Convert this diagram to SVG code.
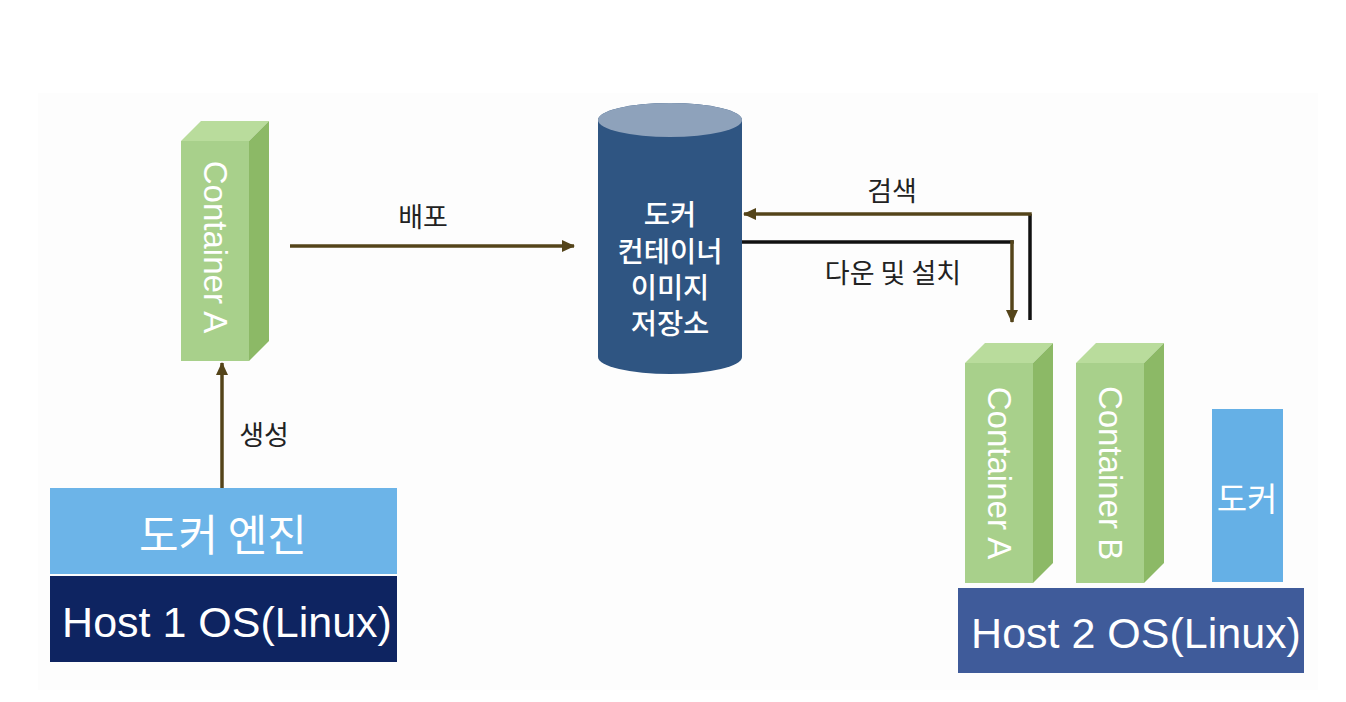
<svg xmlns="http://www.w3.org/2000/svg" xmlns:xlink="http://www.w3.org/1999/xlink" width="1346" height="702" viewBox="0 0 1346 702">
<style>
.lbl{font-family:"Noto Sans CJK KR","Liberation Sans",sans-serif;font-size:27px;fill:#222;text-anchor:middle;dominant-baseline:central}
.ctr{font-family:"Liberation Sans",Arial,sans-serif;font-size:33px;fill:#fff;text-anchor:middle;dominant-baseline:central}
.host{font-family:"Liberation Sans",Arial,sans-serif;font-size:43px;fill:#fff;text-anchor:middle}
.kr{font-family:"Noto Sans CJK KR",sans-serif;fill:#fff;text-anchor:middle;dominant-baseline:central}
.ol{fill:none;stroke:#54441a;stroke-width:3.5}
.bk{fill:none;stroke:#111;stroke-width:3.5}
</style>
<defs>
<marker id="ah" markerUnits="userSpaceOnUse" markerWidth="14" markerHeight="14" refX="12" refY="7" orient="auto">
<path d="M0,1 L13,7 L0,13 Z" fill="#54441a"/>
</marker>
<g id="cbox">
<polygon points="0,0 20,-20 88,-20 68,0" fill="#b9dc9c"/>
<polygon points="68,0 88,-20 88,200 68,220" fill="#8cb966"/>
<rect x="0" y="0" width="68" height="220" fill="#a8d08b"/>
</g>
</defs>
<rect x="38" y="93" width="1280" height="597" fill="#fdfdfd"/>
<g id="connectors">
<line class="ol" x1="222" y1="488" x2="222" y2="363" marker-end="url(#ah)"/>
<line class="ol" x1="290" y1="246" x2="574" y2="246" marker-end="url(#ah)"/>
<line class="bk" x1="1030" y1="320" x2="1030" y2="214"/>
<line class="ol" x1="1031.75" y1="214" x2="744" y2="214" marker-end="url(#ah)"/>
<line class="bk" x1="742" y1="242" x2="1013.75" y2="242"/>
<line class="ol" x1="1012" y1="240.25" x2="1012" y2="322" marker-end="url(#ah)"/>
<text class="lbl" x="264" y="433">생성</text>
<text class="lbl" x="423" y="215">배포</text>
<text class="lbl" x="892" y="189">검색</text>
<text class="lbl" x="893" y="271">다운 및 설치</text>
</g>
<g id="containerA1">
<use xlink:href="#cbox" transform="translate(181,141)"/>
<text class="ctr" transform="translate(215,247) rotate(90)">Container A</text>
</g>
<g id="dockerEngine">
<rect x="50" y="488" width="347" height="86" fill="#6cb4e8"/>
<text class="kr" x="223" y="532" font-size="43">도커 엔진</text>
</g>
<g id="host1">
<rect x="50" y="576" width="347" height="86" fill="#0e2461"/>
<text class="host" x="227" y="637">Host 1 OS(Linux)</text>
</g>
<g id="registry">
<path d="M598,120 V357 A72,17 0 0 0 742,357 V120 A72,17 0 0 0 598,120 Z" fill="#2f5582"/>
<ellipse cx="670" cy="120" rx="72" ry="17" fill="#8ea2bb"/>
<text class="kr" x="670" y="212" font-size="28.5" font-weight="500"><tspan x="670" y="212">도커</tspan><tspan x="670" y="249">컨테이너</tspan><tspan x="670" y="285">이미지</tspan><tspan x="670" y="321">저장소</tspan></text>
</g>
<g id="containerA2">
<use xlink:href="#cbox" transform="translate(965,363)"/>
<text class="ctr" transform="translate(999,473) rotate(90)">Container A</text>
</g>
<g id="containerB">
<use xlink:href="#cbox" transform="translate(1076,363)"/>
<text class="ctr" transform="translate(1110,473) rotate(90)">Container B</text>
</g>
<g id="docker2">
<rect x="1212" y="409" width="71" height="173" fill="#65b0e6"/>
<text class="kr" x="1247" y="497" font-size="33">도커</text>
</g>
<g id="host2">
<rect x="958" y="588" width="346" height="85" fill="#3f5b9a"/>
<text class="host" x="1136" y="648">Host 2 OS(Linux)</text>
</g>
</svg>
